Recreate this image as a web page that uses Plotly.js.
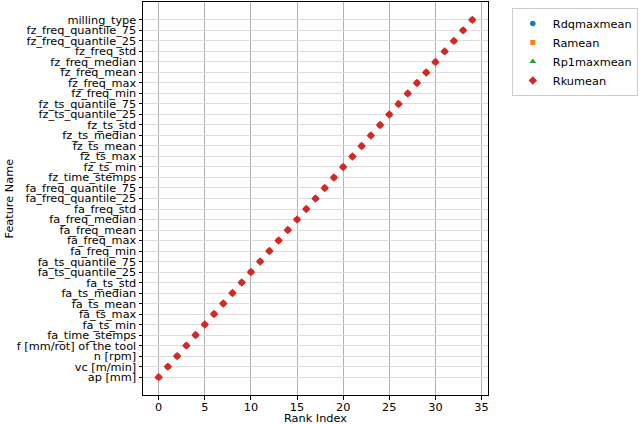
<!DOCTYPE html>
<html>
<head>
<meta charset="utf-8">
<script src="https://cdn.plot.ly/plotly-3.0.1.min.js"></script>
<style>html,body{margin:0;padding:0;background:#fff;}#chart{width:640px;height:424px;}</style>
</head>
<body>
<div id="chart"></div>
<script>
const features = ["ap [mm]","vc [m/min]","n [rpm]","f [mm/rot] of the tool","fa_time_stemps","fa_ts_min","fa_ts_max","fa_ts_mean","fa_ts_median","fa_ts_std","fa_ts_quantile_25","fa_ts_quantile_75","fa_freq_min","fa_freq_max","fa_freq_mean","fa_freq_median","fa_freq_std","fa_freq_quantile_25","fa_freq_quantile_75","fz_time_stemps","fz_ts_min","fz_ts_max","fz_ts_mean","fz_ts_median","fz_ts_std","fz_ts_quantile_25","fz_ts_quantile_75","fz_freq_min","fz_freq_max","fz_freq_mean","fz_freq_median","fz_freq_std","fz_freq_quantile_25","fz_freq_quantile_75","milling_type"];
const rankRdqmaxmean = [0,1,2,3,4,5,6,7,8,9,10,11,12,13,14,15,16,17,18,19,20,21,22,23,24,25,26,27,28,29,30,31,32,33,34];
const rankRamean     = [0,1,2,3,4,5,6,7,8,9,10,11,12,13,14,15,16,17,18,19,20,21,22,23,24,25,26,27,28,29,30,31,32,33,34];
const rankRp1maxmean = [0,1,2,3,4,5,6,7,8,9,10,11,12,13,14,15,16,17,18,19,20,21,22,23,24,25,26,27,28,29,30,31,32,33,34];
const rankRkumean    = [0,1,2,3,4,5,6,7,8,9,10,11,12,13,14,15,16,17,18,19,20,21,22,23,24,25,26,27,28,29,30,31,32,33,34];
const seriesNames = ["Rdqmaxmean","Ramean","Rp1maxmean","Rkumean"];
const xTicks = [0,5,10,15,20,25,30,35];

const F = "DejaVu Sans, sans-serif";
const FS = 11.3;
const defs = [
  {x: rankRdqmaxmean, sym: "circle", col: "#1f77b4", size: 5.5},
  {x: rankRamean, sym: "square", col: "#ff7f0e", size: 5},
  {x: rankRp1maxmean, sym: "triangle-up", col: "#2ca02c", size: 6},
  {x: rankRkumean, sym: "diamond", col: "#d62728", size: 6.5}
];
const traces = defs.map((d,i)=>({
  type: "scatter", mode: "markers", name: seriesNames[i],
  x: d.x, y: features,
  marker: {symbol: d.sym, color: d.col, size: d.size, line: {width: 0}}
}));

const layout = {
  width: 640, height: 424,
  margin: {l: 143, r: 147, t: 2, b: 29},
  paper_bgcolor: "#fff", plot_bgcolor: "#fff",
  font: {family: F, size: FS, color: "#000"},
  showlegend: true,
  legend: {x: 1.069, y: 0.985, xanchor: "left", yanchor: "top",
    bordercolor: "#cccccc", borderwidth: 1, bgcolor: "#fff",
    font: {family: F, size: FS}, itemsizing: "trace", tracegroupgap: 0},
  xaxis: {
    range: [-1.7, 35.7], tickmode: "array", tickvals: xTicks, ticktext: xTicks.map(String),
    showgrid: true, gridcolor: "#b0b0b0", gridwidth: 1, zeroline: false,
    showline: true, linecolor: "#000", linewidth: 1, mirror: true,
    ticks: "outside", ticklen: 3.5, tickcolor: "#000", ticklabelstandoff: -2,
    tickfont: {family: F, size: FS}, automargin: false
  },
  yaxis: {
    type: "category", categoryorder: "array", categoryarray: features,
    tickmode: "array", tickvals: features, ticktext: features,
    range: [-1.7, 35.7],
    showgrid: true, gridcolor: "#dddddd", gridwidth: 1, zeroline: false,
    showline: true, linecolor: "#000", linewidth: 1, mirror: true,
    ticks: "outside", ticklen: 3.5, tickcolor: "#000",
    tickfont: {family: F, size: FS}, automargin: false
  },
  annotations: [
    {text: "Rank Index", xref: "paper", yref: "paper", x: 0.5, y: -0.0, yshift: -23,
     xanchor: "center", yanchor: "middle", showarrow: false, font: {family: F, size: FS}},
    {text: "Feature Name", xref: "paper", yref: "paper", x: 0, xshift: -134, y: 0.5,
     xanchor: "center", yanchor: "middle", textangle: -90, showarrow: false, font: {family: F, size: FS}}
  ]
};
Plotly.newPlot("chart", traces, layout, {displayModeBar: false, staticPlot: true});
</script>
</body>
</html>
